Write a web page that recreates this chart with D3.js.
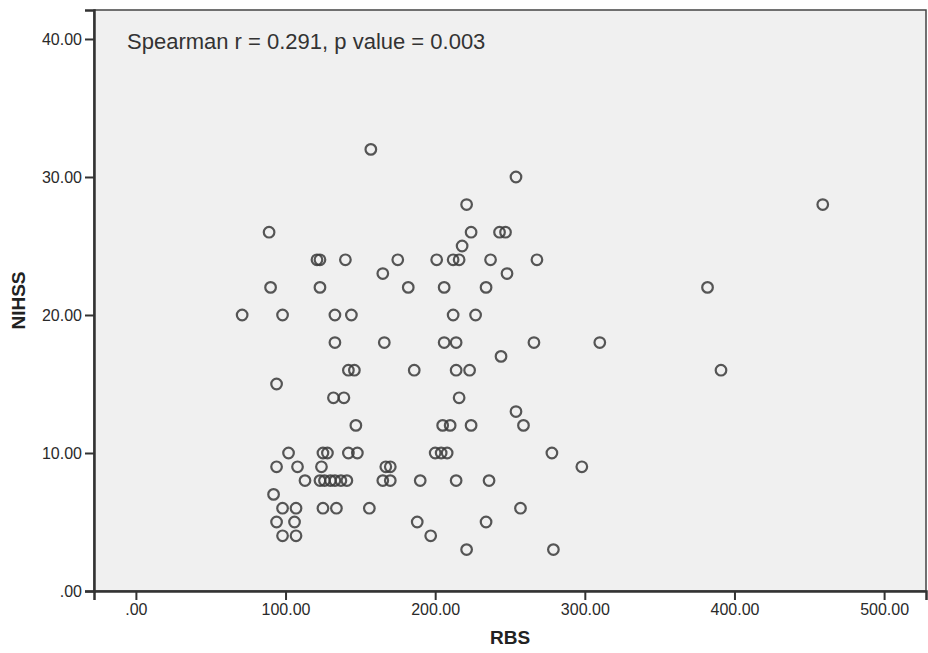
<!DOCTYPE html>
<html>
<head>
<meta charset="utf-8">
<script src="https://cdn.jsdelivr.net/npm/d3@7"></script>
<style>
    body { margin: 0; background: #ffffff; }
    #chart { width: 928px; height: 653px; }
    text { font-family: "Liberation Sans", Arial, sans-serif; }
</style>
</head>
<body>
<div id="chart"></div>
<script>

// RBS (x) and NIHSS (y), one entry per patient
const rbs = [
    157,
    254,
    221, 459,
    89, 224, 243, 247,
    218,
    121, 123, 140, 175, 201, 212, 216, 237, 268,
    165, 248,
    90, 123, 182, 206, 234, 382,
    71, 98, 133, 144, 212, 227,
    133, 166, 206, 214, 266, 310,
    244,
    142, 146, 186, 214, 223, 391,
    94,
    132, 139, 216,
    254,
    147, 205, 210, 224, 259,
    102, 125, 128, 142, 148, 200, 204, 208, 278,
    94, 108, 124, 167, 170, 298,
    113, 123, 126, 130, 133, 137, 141, 165, 170, 190, 214, 236,
    92,
    98, 107, 125, 134, 156, 257,
    94, 106, 188, 234,
    98, 107, 197,
    221, 279
];

const nihss = [
    32,
    30,
    28, 28,
    26, 26, 26, 26,
    25,
    24, 24, 24, 24, 24, 24, 24, 24, 24,
    23, 23,
    22, 22, 22, 22, 22, 22,
    20, 20, 20, 20, 20, 20,
    18, 18, 18, 18, 18, 18,
    17,
    16, 16, 16, 16, 16, 16,
    15,
    14, 14, 14,
    13,
    12, 12, 12, 12, 12,
    10, 10, 10, 10, 10, 10, 10, 10, 10,
    9, 9, 9, 9, 9, 9,
    8, 8, 8, 8, 8, 8, 8, 8, 8, 8, 8, 8,
    7,
    6, 6, 6, 6, 6, 6,
    5, 5, 5, 5,
    4, 4, 4,
    3, 3
];

const xTicks = [0, 100, 200, 300, 400, 500];
const yTicks = [0, 10, 20, 30, 40];
const note = "Spearman r = 0.291, p value = 0.003";

const data = rbs.map(function(d, i) {
    return {rbs: d, nihss: nihss[i]};
});

const width = 928;
const height = 653;
const margin = {top: 10, left: 94, right: 2, bottom: 62};

const svg = d3.select("#chart")
    .append("svg")
    .attr("width", width)
    .attr("height", height);

const xScale = d3.scaleLinear()
    .domain([-28, 528])
    .range([margin.left, width - margin.right]);

const yScale = d3.scaleLinear()
    .domain([0, 42.1])
    .range([height - margin.bottom, margin.top]);

// SPSS style labels: ".00", "100.00" ...
function fmt(v) {
    let s = d3.format(".2f")(v);
    return v === 0 ? s.slice(1) : s;
}

/* plot background and frame */

svg.append("rect")
    .attr("x", margin.left)
    .attr("y", margin.top)
    .attr("width", width - margin.left - margin.right)
    .attr("height", height - margin.top - margin.bottom)
    .attr("fill", "#f0f0f0")
    .attr("stroke", "#444")
    .attr("stroke-width", 1.5);

/* axes */

const xAxis = svg.append("g")
    .attr("transform", `translate(0,${height - margin.bottom})`)
    .call(d3.axisBottom(xScale).tickValues(xTicks).tickFormat(fmt).tickSize(9).tickPadding(4));

const yAxis = svg.append("g")
    .attr("transform", `translate(${margin.left},0)`)
    .call(d3.axisLeft(yScale).tickValues(yTicks).tickFormat(fmt).tickSize(9).tickPadding(3));

[xAxis, yAxis].forEach(function(a) {
    a.select(".domain").attr("stroke", "#333").attr("stroke-width", 2.5);
    a.selectAll(".tick line").attr("stroke", "#333").attr("stroke-width", 2);
    a.selectAll(".tick text")
        .attr("fill", "#2a2a2a")
        .style("font-size", "16px")
        .style("font-family", "'Liberation Sans', Arial, sans-serif");
});

/* points */

svg.append("g")
    .selectAll("circle")
    .data(data)
    .enter()
    .append("circle")
        .attr("cx", function(d) { return xScale(d.rbs); })
        .attr("cy", function(d) { return yScale(d.nihss); })
        .attr("r", 5.3)
        .attr("fill", "none")
        .attr("stroke", "#3a3a3a")
        .attr("stroke-width", 2.2)
        .attr("stroke-opacity", 0.85);

/* annotation and axis titles */

svg.append("text")
    .attr("x", 127)
    .attr("y", 49)
    .attr("fill", "#333")
    .style("font-size", "22px")
    .text(note);

svg.append("text")
    .attr("x", (margin.left + width - margin.right) / 2)
    .attr("y", 644)
    .attr("text-anchor", "middle")
    .attr("fill", "#222")
    .style("font-size", "19px")
    .style("font-weight", "bold")
    .text("RBS");

svg.append("text")
    .attr("transform", `translate(25,${(margin.top + height - margin.bottom) / 2}) rotate(-90)`)
    .attr("text-anchor", "middle")
    .attr("fill", "#222")
    .style("font-size", "19px")
    .style("font-weight", "bold")
    .text("NIHSS");

</script>
</body>
</html>
